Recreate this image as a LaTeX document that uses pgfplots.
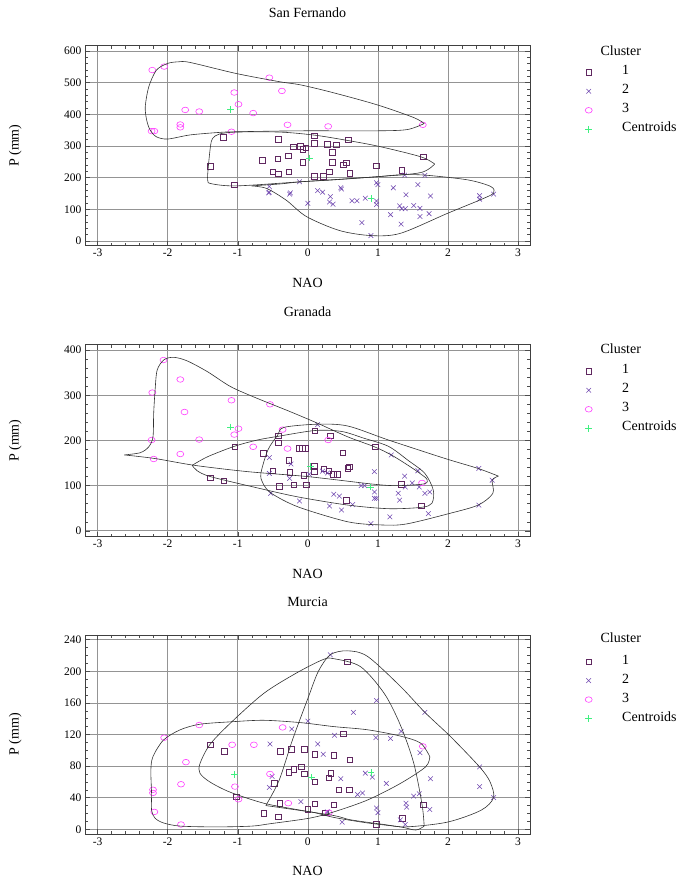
\documentclass[border=0pt]{standalone}
\usepackage{pgfplots}
\pgfplotsset{compat=1.18}
\usepackage{fontspec}
\setmainfont{Liberation Serif}
\definecolor{cA}{RGB}{96,40,96}
\definecolor{cB}{RGB}{112,72,176}
\definecolor{cC}{RGB}{255,64,255}
\definecolor{cD}{RGB}{64,240,128}
\pgfplotsset{
 panel/.style={
  scale only axis, width=445pt, xmin=-3.18, xmax=3.17, clip mode=individual,
  xtick={-3,-2,-1,0,1,2,3}, minor x tick num=4,
  grid=major, major grid style={draw=black!42, line width=0.7pt},
  tick align=inside, major tick length=5pt, minor tick length=3pt,
  every tick/.style={black!70, line width=0.5pt},
  axis line style={black!75, line width=0.8pt},
  /pgf/number format/assume math mode=true,
  tick label style={font=\fontsize{11.5}{13}\selectfont},
  xlabel={NAO}, ylabel={P (mm)},
  label style={font=\fontsize{14}{16}\selectfont},
  xlabel style={at={(axis description cs:0.5,0)}, anchor=center, yshift=-37pt},
  ylabel style={at={(axis description cs:-0.157,0.5)}, anchor=center},
  title style={at={(axis description cs:0.5,1)}, anchor=center, yshift=27pt, font=\fontsize{14}{16}\selectfont},
  legend cell align=left,
  legend image code/.code={\draw[##1] plot coordinates {(0pt,-1pt)};},
  legend style={draw=none, fill=none, inner sep=0pt, column sep=30pt, row sep=6pt,
    font=\fontsize{14}{16}\selectfont,
    nodes={inner sep=0pt, text height=10pt, text depth=3pt}, anchor=north west},
 },
 s1/.style={only marks, mark=square, mark size=2.8pt, color=cA, mark options={line width=0.6pt}},
 s2/.style={only marks, mark=x, mark size=3.3pt, color=cB, mark options={line width=0.55pt}},
 s3/.style={only marks, mark=o, mark size=3.5pt, color=cC, mark options={yscale=0.8, line width=0.6pt}},
 s4/.style={only marks, mark=+, mark size=3.3pt, color=cD, mark options={line width=0.6pt}},
 env/.style={smooth, tension=0.5, no markers, black!80, line width=0.6pt, forget plot},
}
\begin{document}
\begin{tikzpicture}
\useasboundingbox (0,0) rectangle (679pt,882pt);
% ---------------- San Fernando
\begin{axis}[panel, at={(85pt,636.3pt)}, anchor=south west, height=200pt,
  ymin=-15, ymax=617, ytick={0,100,...,600}, minor y tick num=4,
  title={San Fernando}, legend style={at={(axis description cs:1.1236,0.9055)}}]
\addplot[s1] coordinates {(-1.21,328) (-1.39,235) (-1.05,178) (-0.42,321) (-0.65,254) (-0.43,259) (-0.28,269) (-0.50,219) (-0.42,212) (-0.27,219) (-0.21,297) (-0.11,299) (-0.07,289) (-0.03,294) (-0.07,249) (0.09,332) (0.09,308) (0.28,306) (0.41,304) (0.35,281) (0.35,249) (0.31,219) (0.09,205) (0.22,205) (0.58,319) (0.55,247) (0.51,240) (0.60,214) (0.98,237) (1.34,224) (1.65,266)};
\addlegendentry{1}
\addplot[s2] coordinates {(-0.55,172) (-0.55,154) (-0.56,152) (-0.26,148) (-0.25,152) (-0.12,187) (0.0,119) (0.14,159) (0.21,154) (0.32,140) (0.31,123) (0.36,116) (0.47,168) (0.48,164) (0.63,127) (0.70,127) (0.82,135) (0.98,184) (1.00,178) (0.98,126) (0.98,115) (0.77,58) (0.90,17) (1.22,168) (1.40,146) (1.57,178) (1.38,208) (1.67,207) (1.75,142) (1.31,111) (1.34,102) (1.39,102) (1.51,112) (1.60,103) (1.18,83) (1.60,77) (1.73,86) (1.33,53) (2.45,143) (2.45,132) (2.65,148)};
\addlegendentry{2}
\addplot[s3] coordinates {(-2.22,540) (-2.05,551) (-0.55,516) (-1.05,469) (-0.37,474) (-0.99,432) (-1.75,414) (-1.55,409) (-0.78,404) (-1.82,368) (-1.82,359) (-2.23,347) (-2.19,347) (-1.09,345) (-0.29,367) (0.29,362) (1.64,367)};
\addlegendentry{3}
\addplot[s4] coordinates {(-1.10,416) (0.02,262) (0.90,135)};
\addlegendentry{Centroids}
\addplot[env] coordinates {(1.66,371) (1.51,390) (0.99,430) (0.37,468) (-0.10,493) (-0.40,503) (-1.02,529) (-1.68,564) (-1.85,566) (-2.00,561) (-2.16,540) (-2.27,487) (-2.32,424) (-2.30,382) (-2.25,350) (-2.16,329) (-2.00,322) (-1.68,335) (-1.26,343) (-1.02,345) (-0.10,348) (0.99,348) (1.42,352) (1.66,371)};
\addplot[env] coordinates {(1.81,243) (1.61,266) (0.99,300) (0.45,322) (0.07,335) (-0.40,344) (-1.02,344) (-1.26,338) (-1.36,324) (-1.39,298) (-1.42,235) (-1.43,193) (-1.38,181) (-1.02,174) (-0.10,187) (0.99,203) (1.61,216) (1.81,243)};
\addplot[env] coordinates {(-0.81,174) (-0.59,166) (-0.31,129) (-0.02,77) (0.45,33) (0.90,17) (1.32,24) (1.99,87) (2.45,129) (2.65,151) (2.61,172) (2.28,193) (1.67,208) (1.32,209) (0.99,203) (0.37,193) (-0.10,187) (-0.40,180) (-0.81,174)};
\node[font=\fontsize{14}{16}\selectfont] at (axis description cs:1.204,0.975) {Cluster};
\end{axis}
% ---------------- Granada
\begin{axis}[panel, at={(85pt,345.3pt)}, anchor=south west, height=192pt,
  ymin=-13, ymax=412, ytick={0,100,...,400}, minor y tick num=4,
  title={Granada}, legend style={at={(axis description cs:1.1236,0.9016)}}]
\addplot[s1] coordinates {(-1.04,186) (-1.39,117) (-1.20,111) (-0.42,210) (-0.42,195) (0.10,221) (0.32,210) (-0.64,171) (-0.27,156) (-0.12,182) (-0.08,182) (-0.04,182) (-0.50,133) (-0.26,129) (0.09,143) (0.09,132) (0.23,137) (0.30,133) (0.36,125) (0.42,125) (-0.06,123) (-0.41,99) (-0.20,102) (-0.02,102) (0.50,173) (0.57,139) (0.59,142) (0.96,186) (0.55,68) (1.33,103) (1.62,55)};
\addlegendentry{1}
\addplot[s2] coordinates {(0.14,235) (-0.55,162) (-0.24,148) (-0.55,127) (-0.26,116) (-0.53,83) (-0.12,66) (0.31,55) (0.37,81) (0.45,77) (0.64,58) (0.48,46) (0.95,131) (0.76,100) (0.81,100) (0.95,86) (0.95,72) (0.98,72) (0.90,16) (1.17,31) (1.19,168) (1.57,133) (1.38,121) (1.39,97) (1.49,106) (1.59,97) (1.67,83) (1.74,86) (1.29,83) (1.31,68) (1.72,38) (2.44,138) (2.63,112) (2.44,57) (0.21,132) (0.28,128) (0.02,125)};
\addlegendentry{2}
\addplot[s3] coordinates {(-2.06,378) (-1.82,335) (-2.22,306) (-1.09,289) (-0.54,280) (-1.76,263) (-0.99,226) (-1.05,213) (-0.36,224) (-2.23,201) (-1.55,202) (-0.78,186) (-0.29,182) (0.29,201) (-2.20,159) (-1.82,170) (1.63,106)};
\addlegendentry{3}
\addplot[s4] coordinates {(-1.10,230) (0.04,143) (0.89,97)};
\addlegendentry{Centroids}
\addplot[env] coordinates {(-2.62,168) (-2.39,173) (-2.27,186) (-2.21,208) (-2.20,260) (-2.18,311) (-2.15,356) (-2.05,379) (-1.91,384) (-1.72,376) (-1.43,352) (-1.10,319) (-0.72,293) (-0.24,263) (0.14,238) (0.57,208) (0.95,186) (1.19,168) (1.43,145) (1.60,127) (1.70,114) (1.66,104) (1.29,100) (0.95,103) (0.00,120) (-0.86,131) (-1.62,145) (-2.18,160) (-2.62,168)};
\addplot[env] coordinates {(-1.65,145) (-1.43,164) (-1.05,187) (-0.72,201) (-0.43,209) (0.10,222) (0.48,220) (0.80,205) (1.15,187) (1.43,156) (1.67,127) (1.79,90) (1.77,61) (1.62,52) (1.15,49) (0.57,57) (-0.14,75) (-0.72,95) (-1.39,120) (-1.58,133) (-1.65,145)};
\addplot[env] coordinates {(2.72,121) (2.43,138) (1.96,160) (1.15,201) (0.57,232) (0.14,236) (-0.34,229) (-0.43,212) (-0.57,179) (-0.67,127) (-0.64,105) (-0.52,83) (-0.14,53) (0.57,20) (1.05,13) (1.40,15) (2.01,38) (2.43,57) (2.64,83) (2.63,112) (2.72,121)};
\node[font=\fontsize{14}{16}\selectfont] at (axis description cs:1.204,0.978) {Cluster};
\end{axis}
% ---------------- Murcia
\begin{axis}[panel, at={(85pt,48pt)}, anchor=south west, height=199pt,
  ymin=-6, ymax=246, ytick={0,40,...,240}, minor y tick num=3,
  title={Murcia}, legend style={at={(axis description cs:1.1236,0.905)}}]
\addplot[s1] coordinates {(-1.39,107) (-1.19,99) (-0.39,99) (-0.24,101) (-0.05,101) (0.10,95) (-0.20,76) (-0.27,72) (-0.09,79) (-0.05,70) (0.10,60) (-0.48,58) (-1.02,41) (-0.40,33) (-0.63,20) (-0.42,16) (0.00,25) (0.10,32) (0.25,21) (0.37,94) (0.30,65) (0.33,71) (0.44,50) (0.59,50) (0.37,31) (0.56,212) (0.51,121) (0.60,88) (0.98,6) (1.35,14) (1.65,31)};
\addlegendentry{1}
\addplot[s2] coordinates {(0.00,137) (-0.23,127) (-0.54,108) (0.14,108) (0.22,95) (0.38,119) (0.32,221) (-0.51,67) (-0.55,53) (-0.10,35) (0.98,163) (0.65,148) (1.67,148) (1.33,124) (0.97,116) (1.18,115) (1.60,97) (2.45,79) (0.82,71) (0.92,66) (0.47,64) (1.12,58) (1.75,64) (2.45,54) (2.65,40) (0.71,44) (0.78,46) (1.51,42) (1.59,45) (1.40,33) (1.41,28) (0.98,27) (1.00,21) (1.74,25) (0.49,9) (1.32,12) (1.39,6) (0.28,22)};
\addlegendentry{2}
\addplot[s3] coordinates {(-1.55,132) (-2.05,116) (-1.74,85) (-1.81,57) (-2.21,50) (-2.21,46) (-2.19,22) (-1.81,6) (-1.08,107) (-0.77,107) (-0.36,129) (-0.54,70) (-1.04,54) (-0.99,38) (-0.28,33) (0.30,21) (1.64,105)};
\addlegendentry{3}
\addplot[s4] coordinates {(-1.05,69) (0.05,66) (0.90,72)};
\addlegendentry{Centroids}
\addplot[env] coordinates {(1.74,92) (1.61,109) (1.32,118) (0.85,126) (0.37,130) (-0.10,135) (-0.63,138) (-1.11,136) (-1.54,133) (-1.82,126) (-2.06,113) (-2.21,92) (-2.24,75) (-2.23,45) (-2.23,24) (-2.18,14) (-2.06,8) (-1.82,4) (-1.30,3) (-0.80,4) (-0.54,7) (0.02,14) (0.37,22) (0.85,37) (1.32,58) (1.68,79) (1.74,92)};
\addplot[env] coordinates {(1.66,4) (1.54,-1) (1.32,3) (0.85,8) (0.37,15) (0.10,21) (-0.16,25) (-0.63,33) (-1.11,47) (-1.40,60) (-1.54,71) (-1.54,83) (-1.40,107) (-1.11,134) (-0.63,172) (-0.16,198) (0.22,215) (0.37,216) (0.75,206) (1.09,172) (1.32,132) (1.51,84) (1.63,31) (1.66,4)};
\addplot[env] coordinates {(-0.60,30) (-0.41,62) (-0.22,113) (0.01,168) (0.15,200) (0.32,221) (0.56,226) (0.85,219) (1.32,181) (1.67,148) (2.04,117) (2.45,79) (2.60,60) (2.65,40) (2.47,24) (1.99,9) (1.40,3) (1.09,6) (0.61,12) (0.33,18) (-0.60,30)};
\node[font=\fontsize{14}{16}\selectfont] at (axis description cs:1.204,0.985) {Cluster};
\end{axis}
\end{tikzpicture}
\end{document}
